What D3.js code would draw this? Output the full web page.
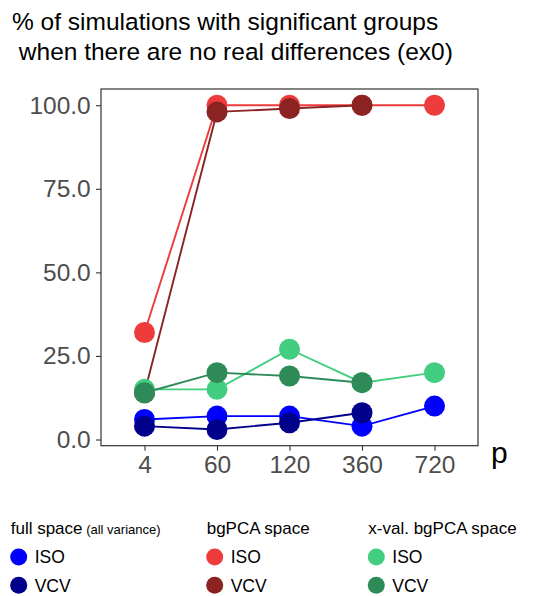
<!DOCTYPE html>
<html>
<head>
<meta charset="utf-8">
<script src="https://cdn.jsdelivr.net/npm/d3@7"></script>
<style>
  body { margin: 0; background: #fff; }
  svg text { font-family: "Liberation Sans", Arial, sans-serif; }
</style>
</head>
<body>
<div class="graph"></div>
<script>
//The chart data
const pValues = ["4", "60", "120", "360", "720"];
const yTicks = [0, 25, 50, 75, 100];

const fullISO = [6, 7, 7, 4, 10];
const fullVCV = [4, 3, 5, 8];
const bgISO = [32, 100, 100, 100, 100];
const bgVCV = [14, 98, 99, 100];
const xvISO = [15, 15, 27, 17, 20];
const xvVCV = [14, 20, 19, 17];

const groupTitles = ["full space", "bgPCA space", "x-val. bgPCA space"];
const seriesNames = ["ISO", "VCV"];

const series = [
    {group: 0, name: "ISO", values: fullISO, color: "#0000FF"},
    {group: 0, name: "VCV", values: fullVCV, color: "#00008B"},
    {group: 1, name: "ISO", values: bgISO, color: "#EE3B3B"},
    {group: 1, name: "VCV", values: bgVCV, color: "#8B2323"},
    {group: 2, name: "ISO", values: xvISO, color: "#43CD80"},
    {group: 2, name: "VCV", values: xvVCV, color: "#2E8B57"}
];

let WIDTH = 536,
    HEIGHT = 596,
    LEFT = 101,
    RIGHT = 478,
    TOP = 89,
    BOTTOM = 445.7;

let svg = d3.select(".graph")
    .append("svg")
    .attr("width", WIDTH)
    .attr("height", HEIGHT);

//Title, two lines
const title = svg.append("text")
    .attr("x", 12)
    .attr("font-size", "24.5px")
    .style("fill", "#000")
    .style("white-space", "pre");
title.append("tspan").attr("x", 12).attr("y", 29.5).text("% of simulations with significant groups");
title.append("tspan").attr("x", 12).attr("y", 60).text(" when there are no real differences (ex0)");

//Scales
let xScale = d3.scalePoint().domain(pValues).range([LEFT, RIGHT]).padding(0.6);
let yScale = d3.scaleLinear().domain([-1.85, 104.85]).range([BOTTOM, TOP]);

//Axes
svg.append("g")
    .attr("transform", `translate(${LEFT}, 0)`)
    .call(d3.axisLeft(yScale).tickValues(yTicks).tickFormat(d3.format(".1f")).tickSize(5).tickPadding(5.3))
    .call(g => {
        g.select(".domain").remove();
        g.selectAll("line").attr("stroke", "#333").attr("stroke-width", 1.1);
        g.selectAll("text").attr("font-size", "24.5px").style("fill", "#4D4D4D").attr("font-family", "Liberation Sans, Arial, sans-serif");
    });

svg.append("g")
    .attr("transform", `translate(0, ${BOTTOM})`)
    .call(d3.axisBottom(xScale).tickSize(5).tickPadding(5))
    .call(g => {
        g.select(".domain").remove();
        g.selectAll("line").attr("stroke", "#333").attr("stroke-width", 1.1);
        g.selectAll("text").attr("font-size", "24.5px").style("fill", "#4D4D4D").attr("font-family", "Liberation Sans, Arial, sans-serif");
    });

//Panel border
svg.append("rect")
    .attr("x", LEFT)
    .attr("y", TOP)
    .attr("width", RIGHT - LEFT)
    .attr("height", BOTTOM - TOP)
    .attr("fill", "none")
    .attr("stroke", "#333")
    .attr("stroke-width", 1.2);

//x axis title
svg.append("text")
    .attr("x", 491)
    .attr("y", 463)
    .attr("font-size", "30px")
    .style("fill", "#000")
    .text("p");

//Lines first, then points
let line = d3.line()
    .x((d, i) => xScale(pValues[i]))
    .y(d => yScale(d));

svg.append("g")
    .selectAll("path")
    .data(series)
    .enter()
    .append("path")
    .attr("d", d => line(d.values))
    .attr("fill", "none")
    .attr("stroke", d => d.color)
    .attr("stroke-width", 1.9);

series.forEach(s => {
    svg.append("g")
        .selectAll("circle")
        .data(s.values)
        .enter()
        .append("circle")
        .attr("cx", (d, i) => xScale(pValues[i]))
        .attr("cy", d => yScale(d))
        .attr("r", 10.5)
        .style("fill", s.color);
});

//Legend
const legendX = [10.7, 206.7, 368.3];
groupTitles.forEach((t, gi) => {
    let lg = svg.append("g").attr("transform", `translate(${legendX[gi]}, 0)`);
    let tt = lg.append("text")
        .attr("x", 0)
        .attr("y", 534)
        .attr("font-size", "17px")
        .style("fill", "#000")
        .text(t);
    if (gi === 0) {
        tt.append("tspan").attr("font-size", "13px").text(" (all variance)");
    }
    series.filter(s => s.group === gi).forEach((s, si) => {
        lg.append("circle")
            .attr("cx", 8)
            .attr("cy", 557 + si * 28.3)
            .attr("r", 8.5)
            .style("fill", s.color);
        lg.append("text")
            .attr("x", 24)
            .attr("y", 563.3 + si * 28.3)
            .attr("font-size", "17.5px")
            .style("fill", "#000")
            .text(seriesNames[si]);
    });
});
</script>
</body>
</html>
